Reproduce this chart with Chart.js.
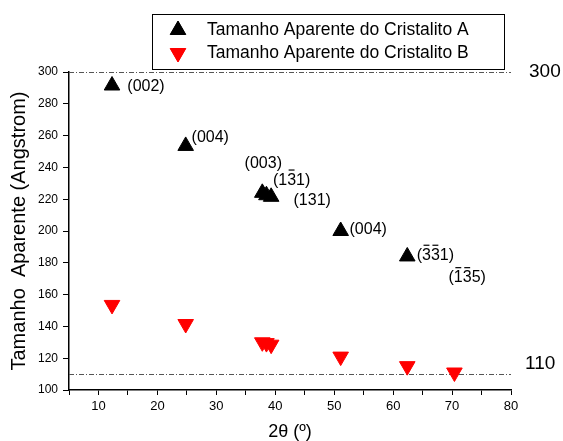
<!DOCTYPE html>
<html lang="pt-br">
<head>
<meta charset="UTF-8">
<title>Tamanho Aparente</title>
<script src="https://cdn.jsdelivr.net/npm/chart.js"></script>
<style>
    body { margin: 0; background: #fff; }
    .grafico { width: 563px; height: 441px; }
</style>
</head>
<body>
<div class="grafico"><canvas id="myChart"></canvas></div>

<script>
// 2θ (graus) e tamanho aparente (Angstrom)
const doisTetaA = [12.3, 24.8, 37.8, 38.5, 39.3, 51.1, 62.4];
const tamanhoA = [291.5, 253.5, 224, 222.5, 221.5, 200, 184];
const doisTetaB = [12.3, 24.8, 37.8, 38.5, 39.3, 51.1, 62.4, 70.4];
const tamanhoB = [153.5, 141.5, 130, 129.5, 128.5, 121, 115, 111];

const nomesSeries = ['Tamanho Aparente do Cristalito A', 'Tamanho Aparente do Cristalito B'];

// índices de Miller, ancorados em (2θ, tamanho); "-" antes do dígito = barra em cima
const indices = ['(002)', '(004)', '(003)', '(1-31)', '(131)', '(004)', '(-3-31)', '(-1-35)'];
const indicesX = [14.9, 25.8, 34.8, 39.6, 43.1, 52.6, 64.0, 69.4];
const indicesY = [291, 258.5, 242.2, 231.8, 219.2, 201, 184.5, 170.4];

// linhas de referência
const linhasRef = [300, 110];

const fonte = 'Arial, "Liberation Sans", sans-serif';

const pontosA = doisTetaA.map((x, i) => ({ x: x, y: tamanhoA[i] }));
const pontosB = doisTetaB.map((x, i) => ({ x: x, y: tamanhoB[i] }));

// escreve um índice de Miller, com barra sobre os dígitos negativos
function escreverIndice(ctx, texto, x, y) {
    let barra = false;
    for (const c of texto) {
        if (c === '-') { barra = true; continue; }
        const w = ctx.measureText(c).width;
        ctx.fillText(c, x, y);
        if (barra) {
            ctx.fillRect(x + 1.5, y - 11, w - 3, 1.2);
            barra = false;
        }
        x += w;
    }
}

// desenha linhas de referência, rótulos e a caixa de legenda
const extras = {
    id: 'extras',
    beforeDatasetsDraw(chart) {
        const { ctx, chartArea, scales } = chart;
        ctx.save();
        ctx.strokeStyle = '#555';
        ctx.lineWidth = 1;
        ctx.setLineDash([5, 2, 1, 2]);
        linhasRef.forEach(v => {
            const y = Math.round(scales.y.getPixelForValue(v)) + 0.5;
            ctx.beginPath();
            ctx.moveTo(chartArea.left, y);
            ctx.lineTo(chartArea.right, y);
            ctx.stroke();
        });
        ctx.restore();
    },
    afterDraw(chart) {
        const { ctx, scales } = chart;
        ctx.save();
        ctx.fillStyle = '#000';

        // valores das linhas de referência
        ctx.font = '19px ' + fonte;
        ctx.textBaseline = 'middle';
        ctx.textAlign = 'left';
        ctx.fillText(String(linhasRef[0]), 529, scales.y.getPixelForValue(linhasRef[0]));
        ctx.fillText(String(linhasRef[1]), 525, scales.y.getPixelForValue(linhasRef[1]) - 10);

        // índices de Miller
        ctx.font = '16px ' + fonte;
        indices.forEach((t, i) => {
            escreverIndice(ctx, t, scales.x.getPixelForValue(indicesX[i]), scales.y.getPixelForValue(indicesY[i]));
        });

        // legenda
        ctx.fillStyle = '#fff';
        ctx.fillRect(152, 14, 352, 55);
        ctx.strokeStyle = '#000';
        ctx.lineWidth = 1;
        ctx.strokeRect(152.5, 14.5, 352, 55);
        const cores = ['#000', '#ff0000'];
        const rot = [0, 180];
        const ys = [30, 53];
        ys.forEach((y, i) => {
            ctx.fillStyle = cores[i];
            ctx.strokeStyle = cores[i];
            Chart.helpers.drawPoint(ctx, { pointStyle: 'triangle', radius: 9, rotation: rot[i], borderWidth: 1 }, 178, y);
            ctx.fill();
            ctx.fillStyle = '#000';
            ctx.font = '17.5px ' + fonte;
            ctx.fillText(nomesSeries[i], 207, y);
        });
        ctx.restore();
    }
};

const eixoFixo = (tamanho, horizontal) => function (scale) {
    if (horizontal) scale.height = tamanho; else scale.width = tamanho;
};

new Chart(document.getElementById('myChart'), {
    type: 'scatter',
    data: {
        datasets: [{
            label: nomesSeries[0],
            data: pontosA,
            pointStyle: 'triangle',
            pointRadius: 9,
            pointBorderWidth: 1,
            backgroundColor: '#000',
            borderColor: '#000'
        }, {
            label: nomesSeries[1],
            data: pontosB,
            pointStyle: 'triangle',
            rotation: 180,
            pointRadius: 9,
            pointBorderWidth: 1,
            backgroundColor: '#ff0000',
            borderColor: '#ff0000'
        }]
    },
    options: {
        responsive: true,
        maintainAspectRatio: false,
        animation: false,
        events: [],
        layout: { padding: { top: 72, right: 52, left: 0, bottom: 0 } },
        plugins: {
            legend: { display: false },
            tooltip: { enabled: false }
        },
        scales: {
            x: {
                type: 'linear',
                min: 5,
                max: 80,
                afterFit: eixoFixo(51, true),
                border: { color: '#000', width: 1.5 },
                grid: { drawOnChartArea: false, tickLength: 5, tickColor: '#000', tickWidth: 1 },
                ticks: {
                    stepSize: 5,
                    padding: 4,
                    color: '#000',
                    font: { family: fonte, size: 13 },
                    callback: v => (v % 10 === 0 ? v : '')
                },
                title: {
                    display: true,
                    text: '2θ (º)',
                    color: '#000',
                    font: { family: fonte, size: 18, lineHeight: 1 },
                    padding: { top: 0, bottom: 0 }
                }
            },
            y: {
                min: 100,
                max: 300,
                afterFit: eixoFixo(69, false),
                border: { color: '#000', width: 1.5 },
                grid: { drawOnChartArea: false, tickLength: 6, tickColor: '#000', tickWidth: 1 },
                ticks: {
                    stepSize: 10,
                    padding: 5,
                    color: '#000',
                    font: { family: fonte, size: 12 },
                    callback: v => (v % 20 === 0 ? v : '')
                },
                title: {
                    display: true,
                    text: 'Tamanho  Aparente (Angstrom)',
                    color: '#000',
                    font: { family: fonte, size: 20, lineHeight: 1 },
                    padding: { top: 9, bottom: 0 }
                }
            }
        }
    },
    plugins: [extras]
});
</script>
</body>
</html>
